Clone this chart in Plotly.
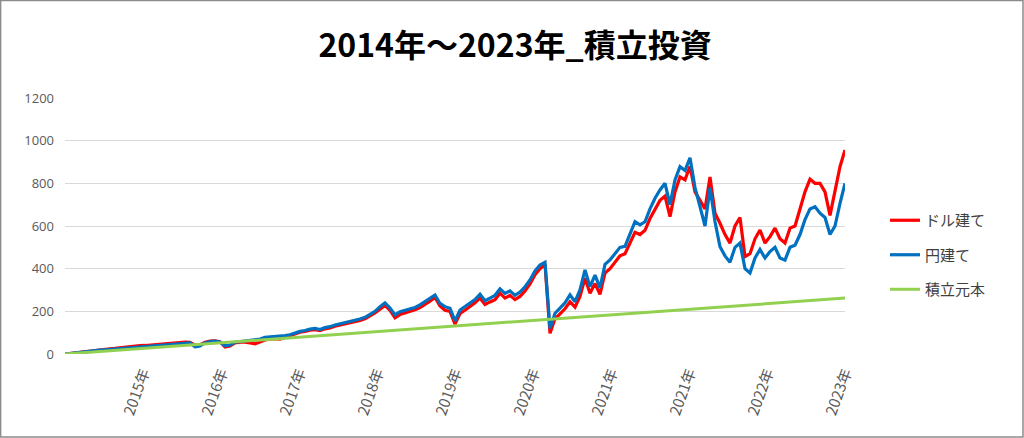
import plotly.graph_objects as go

# 読み取り値（約5px刻み、2014年初〜2023年末）
dollar = [
    0, 3, 6, 8, 11, 14, 16, 19, 21, 24,
    26, 29, 31, 34, 37, 39, 40, 42, 45, 46,
    48, 50, 52, 55, 56, 55, 42, 44, 55, 60,
    62, 58, 33, 38, 52, 55, 56, 52, 48, 56,
    66, 70, 72, 70, 78, 85, 96, 102, 106, 112,
    114, 110, 118, 122, 130, 135, 140, 145, 152, 157,
    165, 178, 192, 210, 228, 205, 170, 185, 192, 198,
    208, 218, 232, 248, 265, 225, 205, 200, 140, 190,
    205, 222, 240, 262, 232, 244, 255, 285, 262, 275,
    255, 270, 295, 328, 372, 400, 420, 97, 165, 188,
    212, 245, 220, 270, 355, 285, 330, 280, 380, 400,
    430, 460, 470, 520, 570, 560, 580, 635, 680, 720,
    740, 644, 760, 830, 816, 880, 760, 720, 680, 830,
    660, 613, 560, 520, 600, 640, 456, 470, 540, 581,
    520, 550, 590, 540, 520, 590, 600, 680, 760, 820,
    800, 800, 760, 650, 760, 878, 956,
]
yen = [
    0, 3, 6, 8, 11, 13, 15, 18, 20, 22,
    24, 27, 28, 30, 33, 35, 36, 38, 40, 42,
    44, 46, 48, 50, 52, 52, 34, 38, 52, 58,
    60, 56, 38, 42, 55, 58, 60, 64, 68, 70,
    78, 80, 80, 82, 86, 90, 100, 106, 110, 117,
    120, 115, 124, 128, 136, 141, 146, 151, 158, 164,
    172, 186, 200, 222, 240, 215, 183, 198, 205, 209,
    218, 230, 245, 261, 277, 237, 222, 214, 155, 206,
    222, 237, 255, 280, 250, 262, 275, 305, 284, 296,
    275, 290, 315, 347, 390, 417, 430, 120, 191, 215,
    240, 277, 245, 300, 394, 316, 370, 310, 420, 441,
    470, 500, 505, 560, 620, 605, 620, 680, 730, 769,
    800, 700, 816, 878, 860, 920, 780, 691, 600, 780,
    620, 503, 460, 430, 500, 520, 400, 380, 450, 490,
    450, 480, 500, 450, 440, 500, 510, 560, 630, 680,
    690, 660, 640, 560, 600, 706, 800,
]
# 積立元本（年ごとの目盛り位置での値）
principal = [0, 26, 52, 79, 105, 131, 157, 183, 210, 236, 262]
year_labels = ["2015年", "2016年", "2017年", "2018年", "2019年",
               "2020年", "2021年", "2021年", "2022年", "2023年"]

n = len(yen)
step = (n - 1) / 10
x = list(range(n))
x_principal = [k * step for k in range(len(principal))]
tickvals = [k * step for k in range(1, 11)]

jp = "Noto Sans CJK JP"

fig = go.Figure()
fig.add_trace(go.Scatter(x=x, y=dollar, mode="lines", name="ドル建て",
                         legendgroup="a", line=dict(color="#FF0000", width=3.2)))
fig.add_trace(go.Scatter(x=x, y=yen, mode="lines", name="円建て",
                         legendgroup="b", line=dict(color="#0070C0", width=3.2)))
fig.add_trace(go.Scatter(x=x_principal, y=principal, mode="lines", name="積立元本",
                         legendgroup="c", line=dict(color="#92D050", width=3)))

W, H = 1024, 438
L, R, T, B = 65, 179, 98, 84
pw, ph = W - L - R, H - T - B

fig.update_layout(
    width=W, height=H,
    margin=dict(l=L, r=R, t=T, b=B),
    paper_bgcolor="white", plot_bgcolor="white",
    title=dict(text="<b>2014年～2023年_積立投資</b>", x=0.503, xanchor="center",
               y=0.895, yanchor="middle",
               font=dict(family=jp, size=32, color="#000000")),
    showlegend=True,
    legend=dict(x=(885 - L) / pw, y=(354 - 255) / ph, xanchor="left", yanchor="middle",
                font=dict(family=jp, size=15, color="#404040"),
                tracegroupgap=12, itemwidth=30, bgcolor="rgba(0,0,0,0)"),
    xaxis=dict(range=[0, n - 1], tickvals=tickvals, ticktext=year_labels,
               tickangle=-70, showgrid=False, zeroline=False, showline=False,
               ticks="", ticklabelstandoff=6,
               tickfont=dict(family=jp, size=15, color="#595959")),
    yaxis=dict(range=[0, 1200], dtick=200, showgrid=True, gridcolor="#D9D9D9",
               gridwidth=1, zeroline=False, showline=False, ticks="",
               ticklabelstandoff=10,
               tickfont=dict(family="Open Sans", size=13, color="#595959")),
    shapes=[dict(type="rect", xref="paper", yref="paper",
                 x0=-L / pw + 0.0008, x1=(W - L - 1) / pw,
                 y0=-(B - 1) / ph, y1=(H - B - 0.5) / ph,
                 line=dict(color="#8C8C8C", width=1.5), fillcolor="rgba(0,0,0,0)")],
)

# ページ余白をなくして 1024x438 にぴったり合わせる
fig.write_html("out.html", config={"displayModeBar": False},
               post_script="document.body.style.margin='0';")
